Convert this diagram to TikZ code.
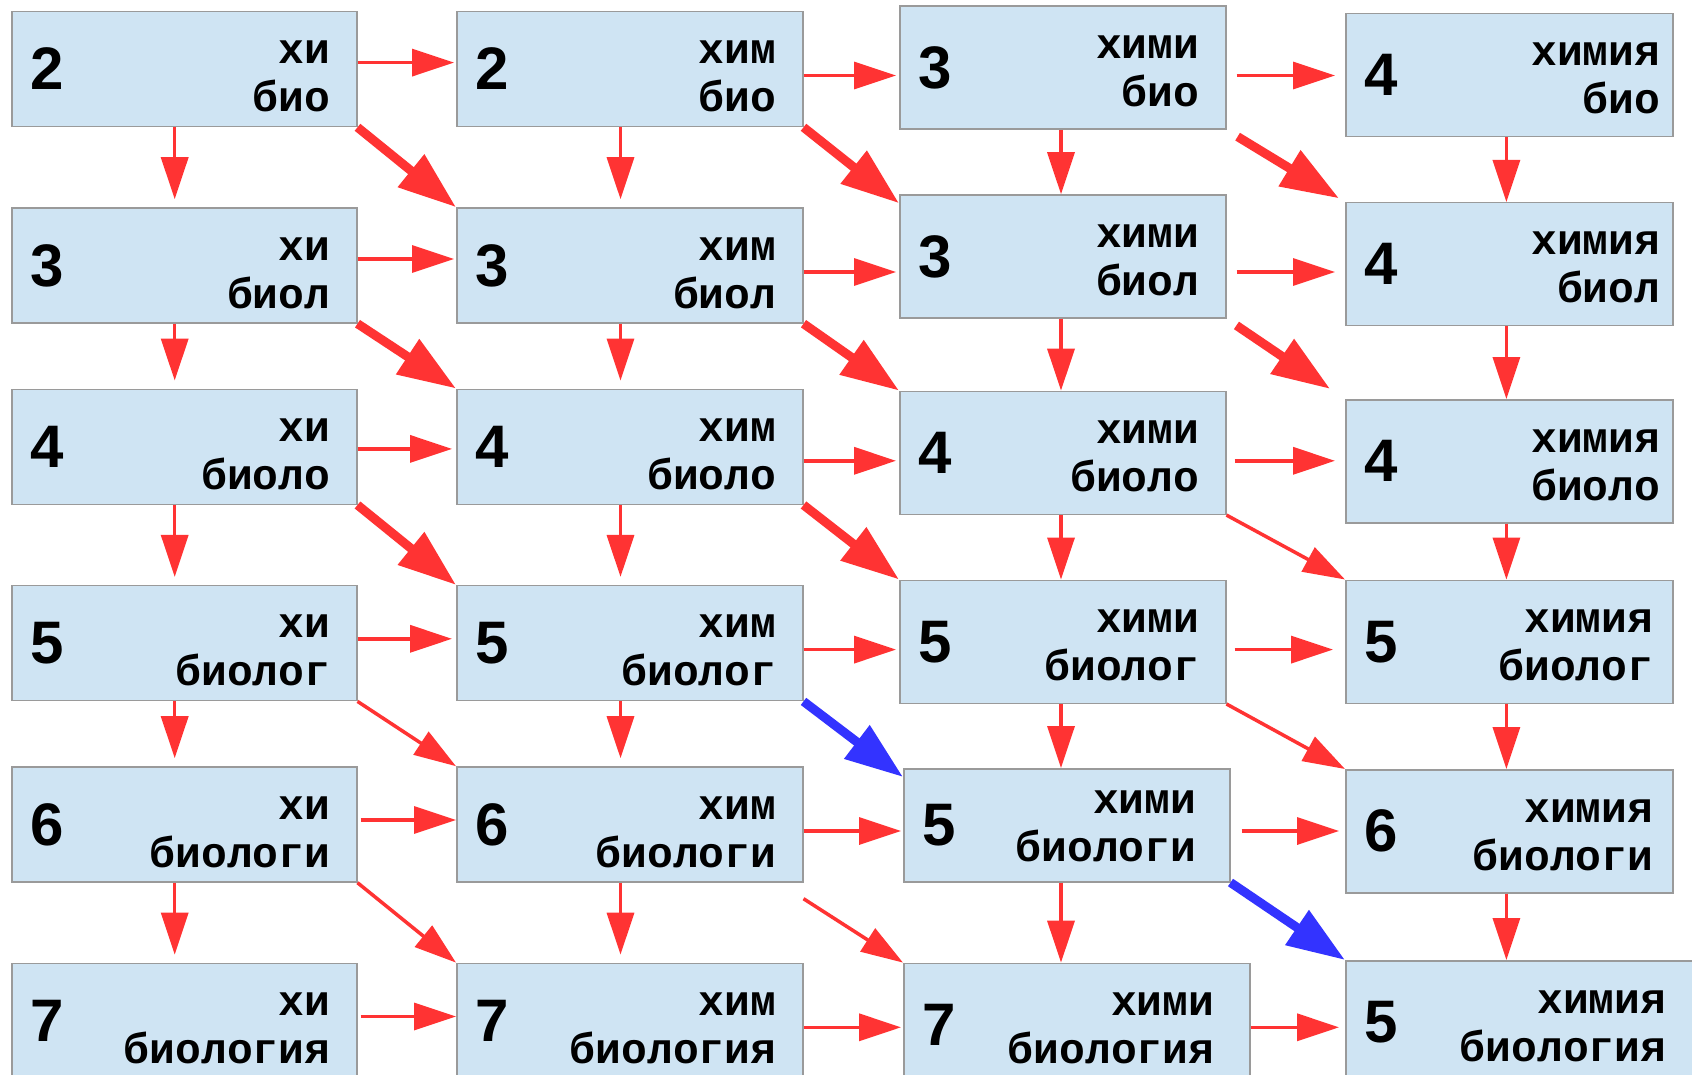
\documentclass[tikz,border=0pt]{standalone}
\usepackage{fontspec}
\newfontfamily\numfont{Liberation Sans}
\newfontfamily\wordfont{Liberation Mono}
\usetikzlibrary{arrows.meta}
\definecolor{BoxBlue}{HTML}{CFE4F3}
\definecolor{BoxLine}{HTML}{9A9A9A}
\definecolor{ArrRed}{HTML}{FF3333}
\definecolor{ArrBlue}{HTML}{3333FF}

% box with a number on the left and two words on the right
% #1 right inset, #2 name, #3 top left corner, #4 width, #5 height, #6 number, #7/#8 words
\newcommand{\cellbox}[8][27]{%
  \node[box, minimum width=#4pt, minimum height=#5pt] (#2) at #3 {};
  \node[num] (#2n) at ([xshift=19pt]#2.west) {#6};
  \node[word] (#2a) at ([xshift=-#1pt, yshift=-53pt]#2.north east) {#7};
  \node[word] (#2b) at ([xshift=-#1pt, yshift=-101pt]#2.north east) {#8};
}

\begin{document}
\begin{tikzpicture}[x=1pt, y=-1pt,
  box/.style={draw=BoxLine, line width=1.5pt, fill=BoxBlue, anchor=north west, inner sep=0pt},
  num/.style={anchor=west, inner sep=0pt, font=\numfont\bfseries\fontsize{60}{60}\selectfont},
  word/.style={anchor=base east, inner sep=0pt, wordshift,
               font=\wordfont\bfseries\fontsize{43}{47}\selectfont},
  wordshift/.style={},
  harr/.style={-{Triangle[length=42pt, width=27pt]}, line width=3.5pt, color=ArrRed},
  bigarr/.style={-{Triangle[length=58pt, width=40pt]}, line width=9pt, color=ArrRed},
  bluearr/.style={bigarr, color=ArrBlue}]
  \path[use as bounding box, fill=white] (0,0) rectangle (1692,1075);

  % column 1
  \cellbox{b11}{(11,10.8)}{345}{115}{2}{хи}{био}
  \cellbox{b21}{(11,207.2)}{345}{115}{3}{хи}{биол}
  \cellbox{b31}{(11,388.5)}{345}{115}{4}{хи}{биоло}
  \cellbox{b41}{(11,584.9)}{345}{115}{5}{хи}{биолог}
  \cellbox{b51}{(11,766.2)}{345}{115}{6}{хи}{биологи}
  \cellbox{b61}{(11,962.6)}{345}{115}{7}{хи}{биология}
  % column 2
  \cellbox{b12}{(456,10.8)}{346}{115}{2}{хим}{био}
  \cellbox{b22}{(456,207.2)}{346}{115}{3}{хим}{биол}
  \cellbox{b32}{(456,388.5)}{346}{115}{4}{хим}{биоло}
  \cellbox{b42}{(456,584.9)}{346}{115}{5}{хим}{биолог}
  \cellbox{b52}{(456,766.2)}{346}{115}{6}{хим}{биологи}
  \cellbox{b62}{(456,962.6)}{346}{115}{7}{хим}{биология}
  % column 3
  \cellbox{b13}{(899,5.4)}{326}{123}{3}{хими}{био}
  \cellbox{b23}{(899,194.2)}{326}{123}{3}{хими}{биол}
  \cellbox{b33}{(899,390.6)}{326}{123}{4}{хими}{биоло}
  \cellbox{b43}{(899,579.5)}{326}{123}{5}{хими}{биолог}
  \begin{scope}[wordshift/.style={yshift=8pt}]
    \cellbox[34]{b53}{(903,768)}{326}{113}{5}{хими}{биологи}
  \end{scope}
  \cellbox[36]{b63}{(903,962.6)}{346}{123}{7}{хими}{биология}
  % column 4
  \cellbox[13]{b14}{(1345,13)}{327}{123}{4}{химия}{био}
  \cellbox[13]{b24}{(1345,202)}{327}{123}{4}{химия}{биол}
  \cellbox[13]{b34}{(1345,399)}{327}{123}{4}{химия}{биоло}
  \cellbox[20]{b44}{(1345,579.5)}{327}{123}{5}{химия}{биолог}
  \cellbox[20]{b54}{(1345,769)}{327}{123}{6}{химия}{биологи}
  \cellbox[50]{b64}{(1345,960)}{370}{123}{5}{химия}{биология}

  % down arrows
  \coordinate (colx1) at (174.7,0);
  \coordinate (colx2) at (620.5,0);
  \coordinate (colx3) at (1061,0);
  \coordinate (colx4) at (1506.4,0);
  \foreach \c/\gap in {1/8,2/8,3/0,4/0}
    \foreach \r in {1,...,5}{
      \pgfmathtruncatemacro\s{\r+1}
      \draw[harr, shorten >=\gap pt] (b\r\c.south -| colx\c) -- (b\s\c.north -| colx\c);
    }

  % right arrows
  \foreach \r/\i/\j/\y/\p/\q in {1/1/2/62.6/0/2, 1/2/3/75.5/0/3, 1/3/4/75.5/10/10,
      2/1/2/259/0/2, 2/2/3/272/0/3, 2/3/4/272/10/10,
      3/1/2/448.9/0/4, 3/2/3/460.8/0/3, 3/3/4/460.8/8/10,
      4/1/2/638.8/0/4, 4/2/3/649.6/0/3, 4/3/4/649.6/8/12,
      5/1/2/820/3/0, 5/2/3/831/0/2, 5/3/4/831/11/6,
      6/1/2/1016.5/3/0, 6/2/3/1027.3/0/2, 6/3/4/1027.3/0/6}
    \draw[harr, shorten <=\p pt, shorten >=\q pt] (b\r\i.east |- 0,\y) -- (b\r\j.west |- 0,\y);

  % diagonal arrows
  \draw[bigarr] (b11.south east) -- (b22.north west);
  \draw[bigarr] (b21.south east) -- (b32.north west);
  \draw[bigarr] (b31.south east) -- (b42.north west);
  \draw[bigarr] (b12.south east) -- ([yshift=-9pt]b23.north west);
  \draw[bigarr] (b22.south east) -- (b33.north west);
  \draw[bigarr] (b32.south east) -- (b43.north west);
  \draw[bigarr, shorten <=13pt, shorten >=7pt] (b13.south east) -- (b24.north west);
  \draw[bigarr, shorten <=12pt, shorten >=18pt] (b23.south east) -- (b34.north west);
  \draw[harr] (b41.south east) -- (b52.north west);
  \draw[harr] (b51.south east) -- (b62.north west);
  \draw[harr] ([yshift=-16pt]b52.south east) -- (b63.north west);
  \draw[harr] (b33.south east) -- (b44.north west);
  \draw[harr] (b43.south east) -- (b54.north west);
  \draw[bluearr] (b42.south east) -- ([yshift=-9pt]b53.north west);
  \draw[bluearr] (b53.south east) -- (b64.north west);
\end{tikzpicture}
\end{document}
